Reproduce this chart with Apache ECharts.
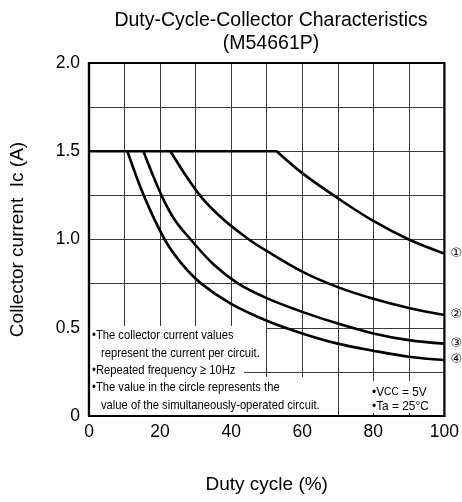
<!DOCTYPE html>
<html><head><meta charset="utf-8">
<script src="https://cdn.jsdelivr.net/npm/echarts@6/dist/echarts.min.js"></script>
<style>html,body{margin:0;padding:0;background:#fff}#c{width:462px;height:502px}</style>
</head><body><div id="c"></div>
<script>
var xTicks = [0, 20, 40, 60, 80, 100];
var yTicks = ['0', '0.5', '1.0', '1.5', '2.0'];
var limit = [[0, 1.5], [53, 1.5]];
var curve1 = [[52.8, 1.5], [60, 1.376], [70, 1.234], [80, 1.105], [90, 1.0], [100, 0.92]];
var curve2 = [[22.9, 1.5], [31.2, 1.25], [38, 1.11], [45, 1.0], [50, 0.935], [60, 0.818], [70, 0.73], [80, 0.664], [90, 0.612], [100, 0.572]];
var curve3 = [[15.3, 1.5], [20.4, 1.25], [24, 1.115], [28.6, 1.0], [35, 0.86], [42, 0.75], [50, 0.668], [60, 0.59], [70, 0.524], [80, 0.468], [90, 0.43], [100, 0.41]];
var curve4 = [[10.8, 1.5], [15.4, 1.25], [21.3, 1.0], [26, 0.865], [31.6, 0.75], [40, 0.635], [50, 0.54], [60, 0.468], [70, 0.41], [80, 0.37], [90, 0.336], [100, 0.317]];
var curveNames = ['①', '②', '③', '④'];
var notes = ['•The collector current values', 'represent the current per circuit.', '•Repeated frequency \u2265 10Hz', '•The value in the circle represents the', 'value of the simultaneously-operated circuit.'];

var chart = echarts.init(document.getElementById('c'));
function curveSeries(data, label) {
  return {
    type: 'line', data: data, smooth: 0.35, symbol: 'none', silent: true,
    lineStyle: {color: '#000', width: 2.6},
    endLabel: {show: !!label, formatter: label || '', color: '#000', fontSize: 13, distance: 6,
      fontFamily: 'DejaVu Sans'}
  };
}
var noteFont = '13.5px "Liberation Sans", Arial, sans-serif';
var graphics = [
  {type: 'rect', left: 90, top: 326, shape: {width: 176, height: 35}, style: {fill: '#fff'}, z: 10},
  {type: 'rect', left: 90, top: 361, shape: {width: 154, height: 16}, style: {fill: '#fff'}, z: 10},
  {type: 'rect', left: 90, top: 377, shape: {width: 232, height: 38}, style: {fill: '#fff'}, z: 10},
  {type: 'rect', left: 370, top: 381, shape: {width: 62, height: 32}, style: {fill: '#fff'}, z: 10}
];
var noteY = [335, 353, 370, 387, 405];
var noteX = [92, 101, 92, 92, 101];
notes.forEach(function (t, i) {
  graphics.push({type: 'text', x: noteX[i], y: noteY[i], scaleX: 0.83, z: 11,
    style: {text: t, font: noteFont, fill: '#000', verticalAlign: 'middle'}});
});
graphics.push({type: 'text', x: 372, y: 392, scaleX: 0.88, z: 11,
  style: {text: '•V{s|CC} = 5V', font: noteFont, fill: '#000', verticalAlign: 'middle',
    rich: {s: {fontSize: 11.5, fontFamily: 'Liberation Sans'}}}});
graphics.push({type: 'text', x: 372, y: 406, scaleX: 0.88, z: 11,
  style: {text: '•Ta = 25°C', font: noteFont, fill: '#000', verticalAlign: 'middle'}});

chart.setOption({
  animation: false,
  backgroundColor: '#fff',
  textStyle: {fontFamily: '"Liberation Sans", Arial, sans-serif'},
  title: {text: 'Duty-Cycle-Collector Characteristics\n(M54661P)', left: 266, top: 4, textAlign: 'center',
    textStyle: {fontSize: 19.5, fontWeight: 'normal', color: '#000', lineHeight: 23, fontFamily: '"Liberation Sans", Arial, sans-serif'}},
  grid: {left: 89, right: 17, top: 63, bottom: 86, show: true, borderColor: '#000', borderWidth: 2.2, z: 20},
  xAxis: {
    type: 'value', min: 0, max: 100, interval: 10,
    name: 'Duty cycle (%)', nameLocation: 'middle', nameGap: 59,
    nameTextStyle: {fontSize: 19, color: '#000'},
    axisLine: {show: true, lineStyle: {color: '#000', width: 2.2}},
    axisTick: {show: false},
    axisLabel: {fontSize: 17.5, color: '#000', margin: 7,
      formatter: function (v) { return xTicks.indexOf(v) >= 0 ? String(v) : ''; }},
    splitLine: {show: true, lineStyle: {color: '#3a3a3a', width: 1}}
  },
  yAxis: {
    type: 'value', min: 0, max: 2, interval: 0.25,
    name: 'Collector current  Ic (A)', nameLocation: 'middle', nameGap: 62,
    nameTextStyle: {fontSize: 19, color: '#000'},
    axisLine: {show: true, lineStyle: {color: '#000', width: 2.2}},
    axisTick: {show: false},
    axisLabel: {fontSize: 17.5, color: '#000', margin: 9,
      formatter: function (v) {
        var k = Math.round(v / 0.5);
        return Math.abs(v - k * 0.5) < 1e-6 ? yTicks[k] : '';
      }},
    splitLine: {show: true, lineStyle: {color: '#3a3a3a', width: 1}}
  },
  graphic: graphics,
  series: [
    curveSeries(limit, null),
    curveSeries(curve1, curveNames[0]),
    curveSeries(curve2, curveNames[1]),
    curveSeries(curve3, curveNames[2]),
    curveSeries(curve4, curveNames[3])
  ]
});
</script></body></html>
